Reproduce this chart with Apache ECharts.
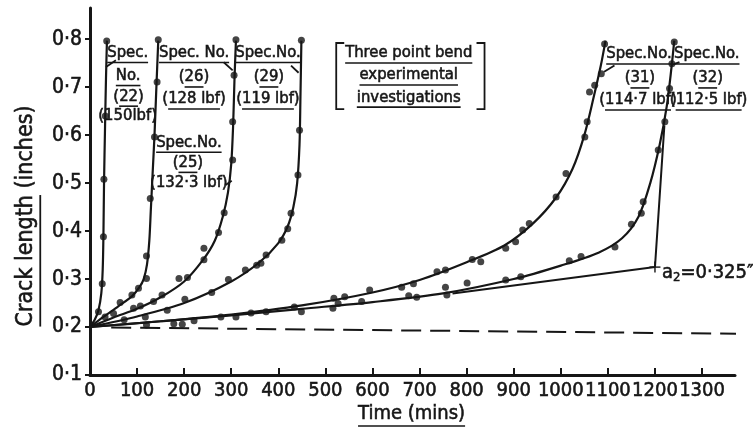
<!DOCTYPE html>
<html>
<head>
<meta charset="utf-8">
<script src="https://cdn.jsdelivr.net/npm/echarts@6/dist/echarts.min.js"></script>
<style>
  html, body { margin: 0; padding: 0; background: #ffffff; }
  #chart { width: 753px; height: 433px; }
</style>
</head>
<body>
<div id="chart"></div>
<script>
// Axis ticks
const timeTicks = [0, 100, 200, 300, 400, 500, 600, 700, 800, 900, 1000, 1100, 1200, 1300];
const crackTicks = [0.1, 0.2, 0.3, 0.4, 0.5, 0.6, 0.7, 0.8];

// Specimen 22 (150 lbf): readings [time (mins), crack length (in)] and fitted curve
const spec22Readings = [[18, 0.232], [26, 0.29], [28.5, 0.388], [29.5, 0.508], [32.5, 0.64], [35.5, 0.796]];
const spec22Curve = [[0, 0.2], [10, 0.215], [18, 0.235], [24, 0.27], [27, 0.32], [28.5, 0.39], [29.8, 0.5], [32, 0.62], [34, 0.72], [36, 0.797]];

// Specimen 25 (132.3 lbf)
const spec25Readings = [[32, 0.221], [50, 0.228], [64, 0.251], [89, 0.267], [103, 0.281], [120, 0.301], [120, 0.348], [128, 0.468], [137, 0.596], [142.5, 0.711], [145, 0.799]];
const spec25Curve = [[0, 0.2], [30, 0.222], [60, 0.243], [90, 0.265], [105, 0.283], [114, 0.3], [121, 0.33], [126, 0.38], [129, 0.44], [133, 0.52], [137, 0.6], [141, 0.7], [145, 0.797]];

// Specimen 26 (128 lbf)
const spec26Readings = [[92.5, 0.239], [107, 0.244], [135, 0.253], [153, 0.267], [189, 0.301], [207, 0.303], [242, 0.34], [242, 0.364], [273, 0.397], [285, 0.438], [303, 0.548], [303, 0.628], [306, 0.725], [310, 0.799]];
const spec26Curve = [[0, 0.2], [50, 0.22], [100, 0.238], [150, 0.262], [200, 0.295], [240, 0.34], [265, 0.38], [282, 0.43], [293, 0.48], [300, 0.54], [304, 0.62], [307, 0.72], [310, 0.797]];

// Specimen 29 (119 lbf)
const spec29Readings = [[72.6, 0.215], [117.5, 0.221], [164, 0.235], [201.5, 0.258], [258.5, 0.272], [294, 0.299], [330, 0.319], [354, 0.329], [363, 0.333], [374, 0.35], [407.5, 0.381], [420, 0.405], [427, 0.437], [441.7, 0.517], [445, 0.61], [449, 0.798]];
const spec29Curve = [[0, 0.2], [100, 0.222], [200, 0.25], [300, 0.295], [360, 0.335], [400, 0.375], [420, 0.41], [432, 0.45], [440, 0.5], [445, 0.58], [447, 0.68], [449, 0.797]];

// Specimen 31 (114.7 lbf)
const spec31Readings = [[342, 0.229], [518, 0.26], [541, 0.263], [594, 0.277], [662, 0.283], [687, 0.29], [737, 0.315], [755, 0.319], [812, 0.341], [830, 0.336], [883, 0.364], [904, 0.378], [919, 0.402], [933, 0.416], [990, 0.471], [1011, 0.52], [1051, 0.596], [1056, 0.628], [1061, 0.69], [1072, 0.704], [1086, 0.728], [1093, 0.79]];
const spec31Curve = [[0, 0.2], [150, 0.212], [300, 0.226], [450, 0.245], [600, 0.272], [700, 0.298], [800, 0.335], [880, 0.37], [940, 0.415], [990, 0.47], [1025, 0.53], [1050, 0.6], [1070, 0.68], [1085, 0.745], [1095, 0.797]];

// Specimen 32 (112.5 lbf)
const spec32Readings = [[120, 0.204], [178, 0.207], [196, 0.206], [221, 0.213], [278, 0.221], [310, 0.221], [374, 0.232], [434, 0.242], [449, 0.232], [516, 0.239], [527, 0.249], [577, 0.253], [677, 0.265], [694, 0.262], [755, 0.283], [758, 0.267], [801, 0.292], [883, 0.298], [915, 0.305], [1018, 0.338], [1043, 0.347], [1115, 0.367], [1150, 0.414], [1171, 0.437], [1175, 0.461], [1207, 0.569], [1221, 0.628], [1231, 0.697], [1236, 0.749], [1241, 0.794]];
const spec32Curve = [[0, 0.2], [150, 0.212], [300, 0.224], [450, 0.238], [600, 0.252], [750, 0.27], [900, 0.3], [1000, 0.328], [1080, 0.355], [1130, 0.385], [1165, 0.43], [1190, 0.5], [1210, 0.58], [1225, 0.66], [1235, 0.74], [1241, 0.797]];

// Construction to the a2 point, then up to the specimen 32 curve
const a2Value = 0.325;
const a2Time = 1200;
const a2Construction = [[770, 0.27], [a2Time, a2Value], [1220, 0.62]];

// Initial crack length reference (dashed)
const initialCrack = [[45, 0.199], [1378, 0.186]];

const INK = '#161616';
const FONT = '"DejaVu Sans Condensed", "DejaVu Sans", sans-serif';
const WEIGHT = 0.55; // extra stroke for the heavier lettering

const chart = echarts.init(document.getElementById('chart'), null, { renderer: 'canvas' });

function curveSeries(data) {
  return {
    type: 'line', data, smooth: 0.3, symbol: 'none',
    lineStyle: { color: INK, width: 2.2 }, silent: true, z: 2
  };
}
function dotSeries(data) {
  return {
    type: 'scatter', data, symbol: 'circle', symbolSize: 7,
    itemStyle: { color: INK }, silent: true, z: 3
  };
}

const option = {
  animation: false,
  backgroundColor: '#ffffff',
  grid: { left: 90, right: 18, top: 8, bottom: 58, containLabel: false, outerBoundsMode: 'none' },
  xAxis: {
    type: 'value', min: 0, max: 1370, interval: 100,
    axisLine: { show: true, lineStyle: { color: INK, width: 3 } },
    axisTick: { show: true, inside: true, length: 7, lineStyle: { color: INK, width: 2 }, customValues: timeTicks },
    axisLabel: {
      customValues: timeTicks, color: INK, fontFamily: FONT, fontSize: 20, margin: 6,
      textBorderColor: INK, textBorderWidth: WEIGHT,
      formatter: v => String(v)
    },
    splitLine: { show: false }
  },
  yAxis: {
    type: 'value', min: 0.1, max: 0.865, interval: 0.1,
    axisLine: { show: true, lineStyle: { color: INK, width: 3 } },
    axisTick: { show: true, length: 5, lineStyle: { color: INK, width: 2 }, customValues: crackTicks },
    axisLabel: {
      customValues: crackTicks, color: INK, fontFamily: FONT, fontSize: 21, margin: 8,
      textBorderColor: INK, textBorderWidth: WEIGHT,
      formatter: v => v.toFixed(1).replace('.', '·')
    },
    splitLine: { show: false }
  },
  series: [
    curveSeries(spec22Curve), dotSeries(spec22Readings),
    curveSeries(spec25Curve), dotSeries(spec25Readings),
    curveSeries(spec26Curve), dotSeries(spec26Readings),
    curveSeries(spec29Curve), dotSeries(spec29Readings),
    curveSeries(spec31Curve), dotSeries(spec31Readings),
    curveSeries(spec32Curve), dotSeries(spec32Readings),
    {
      type: 'line', data: a2Construction, symbol: 'none', silent: true,
      lineStyle: { color: INK, width: 2 }, z: 2
    },
    {
      type: 'scatter', data: [[a2Time, a2Value]], silent: true, z: 4,
      symbol: 'path://M4.2,0h1.6v10h-1.6zM0,4.2h10v1.6h-10z', symbolSize: 11,
      itemStyle: { color: INK }
    },
    {
      type: 'line', data: initialCrack, symbol: 'none', silent: true,
      lineStyle: { color: INK, width: 2, type: [20, 9] }, z: 1
    }
  ]
};
chart.setOption(option);

// ---- Annotations (placed in data coordinates) ----
const measureCtx = document.createElement('canvas').getContext('2d');
function textWidth(s, size) {
  measureCtx.font = size + 'px ' + FONT;
  return measureCtx.measureText(s).width;
}
const toPx = (t, c) => chart.convertToPixel({ gridIndex: 0 }, [t, c]);

// [time, crack, text, underline start, underline end]
const SIZE = 16.5;
const notes = [
  [80, 0.772, 'Spec.', 0, 5], [81, 0.724, 'No.', 0, 3], [82, 0.681, '(22)', 1, 3], [80, 0.641, '(150lbf)', -1, -1],
  [221, 0.772, 'Spec. No.', 0, 9], [221, 0.721, '(26)', 1, 3], [221, 0.675, '(128 lbf)', 1, 8],
  [210, 0.585, 'Spec.No.', 0, 8], [208, 0.543, '(25)', 1, 3], [210, 0.5, '(132·3 lbf)', -1, -1],
  [378, 0.772, 'Spec.No.', 0, 8], [380, 0.721, '(29)', 1, 3], [378, 0.675, '(119 lbf)', 1, 8],
  [677, 0.771, 'Three point bend', 0, 16], [677, 0.725, 'experimental', 0, 12], [677, 0.679, 'investigations', 0, 14],
  [1166, 0.769, 'Spec.No.', 0, 8], [1168, 0.719, '(31)', 1, 3], [1164, 0.673, '(114·7 lbf)', 1, 10],
  [1310, 0.769, 'Spec.No.', 0, 8], [1312, 0.719, '(32)', 1, 3], [1314, 0.673, '(112·5 lbf)', 1, 10]
];

// Leader arrows from label to curve, and the box brackets
const leaders = [
  [[34, 0.742], [55, 0.756]],
  [[284, 0.752], [303, 0.735]],
  [[427, 0.745], [443, 0.73]],
  [[1092, 0.732], [1114, 0.745]],
  [[1234, 0.746], [1252, 0.752]],
  [[288, 0.496], [301, 0.505]]
];
const brackets = [
  [[540, 0.792], [523, 0.792], [523, 0.654], [540, 0.654]],
  [[821, 0.792], [838, 0.792], [838, 0.654], [821, 0.654]]
];

const graphics = [];
notes.forEach(([t, c, s, u0, u1]) => {
  const [x, y] = toPx(t, c);
  graphics.push({
    type: 'text', x, y, silent: true,
    style: {
      text: s, fill: INK, stroke: INK, lineWidth: WEIGHT,
      font: SIZE + 'px ' + FONT, textAlign: 'center', textVerticalAlign: 'middle'
    }
  });
  if (u0 >= 0) {
    const w = textWidth(s, SIZE);
    const left = x - w / 2;
    const a = left + textWidth(s.slice(0, u0), SIZE);
    const b = left + textWidth(s.slice(0, u1), SIZE);
    graphics.push({
      type: 'line', silent: true,
      shape: { x1: a, y1: y + SIZE * 0.6, x2: b, y2: y + SIZE * 0.6 },
      style: { stroke: INK, lineWidth: 1.6 }
    });
  }
});
leaders.concat(brackets).forEach(pts => {
  graphics.push({
    type: 'polyline', silent: true,
    shape: { points: pts.map(p => toPx(p[0], p[1])) },
    style: { stroke: INK, lineWidth: 1.8, fill: null }
  });
});

// a2 label beside the construction point
const [ax, ay] = toPx(a2Time, a2Value);
graphics.push({
  type: 'text', x: ax + 7, y: ay + 6, silent: true,
  style: {
    text: '{a|a}{s|2}{a|=0·325″}', textVerticalAlign: 'middle', textAlign: 'left',
    rich: {
      a: { fontSize: 20, fontFamily: FONT, fill: INK, stroke: INK, lineWidth: WEIGHT },
      s: { fontSize: 13, fontFamily: FONT, fill: INK, stroke: INK, lineWidth: WEIGHT, padding: [9, 0, 0, 0] }
    }
  }
});

// Axis titles with underlines
const yTitle = 'Crack length (inches)';
const ySize = 23;
const yW = textWidth(yTitle, ySize);
const yU = textWidth('Crack length', ySize);
graphics.push({
  type: 'group', x: 26, y: 216, rotation: Math.PI / 2, silent: true,
  children: [
    { type: 'text', x: 0, y: 0, style: { text: yTitle, fill: INK, stroke: INK, lineWidth: WEIGHT, font: ySize + 'px ' + FONT, textAlign: 'center', textVerticalAlign: 'middle' } },
    { type: 'line', shape: { x1: -yW / 2, y1: ySize * 0.62, x2: -yW / 2 + yU, y2: ySize * 0.62 }, style: { stroke: INK, lineWidth: 1.8 } }
  ]
});
const xTitle = 'Time (mins)';
const xSize = 20;
const xW = textWidth(xTitle, xSize);
const xCenter = toPx(700, 0.1)[0] - 8;
graphics.push({
  type: 'group', x: xCenter, y: 414, silent: true,
  children: [
    { type: 'text', x: 0, y: 0, style: { text: xTitle, fill: INK, stroke: INK, lineWidth: WEIGHT, font: xSize + 'px ' + FONT, textAlign: 'center', textVerticalAlign: 'middle' } },
    { type: 'line', shape: { x1: -xW / 2, y1: xSize * 0.6, x2: xW / 2, y2: xSize * 0.6 }, style: { stroke: INK, lineWidth: 1.6 } }
  ]
});

chart.setOption({ graphic: graphics });
</script>
</body>
</html>
